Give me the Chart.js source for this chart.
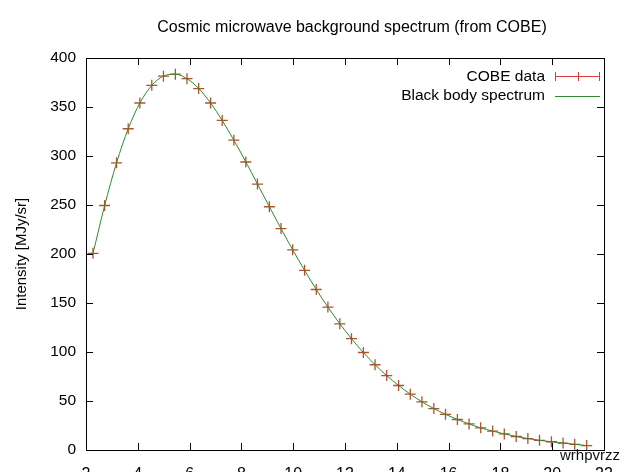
<!DOCTYPE html>
<html>
<head>
<meta charset="utf-8">
<script src="https://cdn.jsdelivr.net/npm/chart.js@4"></script>
<style>
  html, body { margin: 0; padding: 0; background: #fff; overflow: hidden; }
  #wrap { position: relative; width: 640px; height: 490px; }
  #mark { position: absolute; left: 560px; top: 446px; font: 15px "Liberation Sans", Arial, sans-serif; color: #111; }
</style>
</head>
<body>
<div id="wrap">
  <canvas id="cobeChart" width="640" height="490"></canvas>
  <div id="mark">wrhpvrzz</div>
</div>
<script>
// frequency [1/cm]
const frequency = [2.27, 2.72, 3.18, 3.63, 4.08, 4.54, 4.99, 5.45, 5.90, 6.35, 6.81, 7.26, 7.71, 8.17, 8.62,
    9.08, 9.53, 9.98, 10.44, 10.89, 11.34, 11.80, 12.25, 12.71, 13.16, 13.61, 14.07, 14.52, 14.97, 15.43,
    15.88, 16.34, 16.79, 17.24, 17.70, 18.15, 18.61, 19.06, 19.51, 19.97, 20.42, 20.87, 21.33];
// COBE measured intensity [MJy/sr]
const cobeData = [200.7, 249.5, 293.0, 327.8, 354.1, 372.1, 381.5, 383.5, 378.9, 368.8, 354.1, 336.3, 316.1,
    293.9, 271.4, 248.2, 225.9, 204.3, 183.3, 163.8, 145.8, 128.8, 113.6, 99.5, 87.0, 75.9, 65.8, 57.0, 49.2,
    42.3, 36.4, 31.1, 26.6, 22.6, 19.3, 16.4, 13.8, 11.7, 9.9, 8.4, 7.1, 5.8, 4.5];
// black body fit [MJy/sr]
const blackBody = [200.6, 249.4, 293.1, 327.7, 354.1, 372.0, 381.5, 383.4, 378.9, 368.9, 354.1, 336.2, 316.1,
    294.0, 271.4, 248.2, 225.9, 204.3, 183.3, 163.8, 145.8, 128.9, 113.6, 99.5, 87.0, 75.9, 65.8, 57.0, 49.2,
    42.3, 36.4, 31.1, 26.6, 22.6, 19.3, 16.4, 13.8, 11.7, 9.9, 8.4, 7.1, 5.8, 4.5];
const xTicks = [2, 4, 6, 8, 10, 12, 14, 16, 18, 20, 22];
const yTicks = [0, 50, 100, 150, 200, 250, 300, 350, 400];

const font = "Liberation Sans, Arial, sans-serif";
const red = "#dc3c3c";
const cross = "#b4502c";
const green = "#2f8a2f";

// gnuplot look: title over the plot, box border, inward ticks on all sides, key inside top-right
const framePlugin = {
    id: "frame",
    afterDatasetsDraw(chart) {
        const { ctx, chartArea: a, scales } = chart;
        ctx.save();
        ctx.fillStyle = "#000";
        ctx.font = "16px " + font;
        ctx.textAlign = "center";
        ctx.textBaseline = "middle";
        ctx.fillText("Cosmic microwave background spectrum (from COBE)", 352, 28);

        ctx.strokeStyle = "#000";
        ctx.lineWidth = 1;
        ctx.strokeRect(a.left + 0.5, a.top + 0.5, a.right - a.left, a.bottom - a.top);
        ctx.beginPath();
        xTicks.forEach(v => {
            const x = Math.round(scales.x.getPixelForValue(v)) + 0.5;
            ctx.moveTo(x, a.bottom); ctx.lineTo(x, a.bottom - 7);
            ctx.moveTo(x, a.top); ctx.lineTo(x, a.top + 7);
        });
        yTicks.forEach(v => {
            const y = Math.round(scales.y.getPixelForValue(v)) + 0.5;
            ctx.moveTo(a.left, y); ctx.lineTo(a.left + 7, y);
            ctx.moveTo(a.right, y); ctx.lineTo(a.right - 7, y);
        });
        ctx.stroke();

        // key
        ctx.font = "15.5px " + font;
        ctx.textAlign = "right";
        const tx = a.right - 59, x0 = a.right - 49, x1 = a.right - 4;
        ctx.fillText("COBE data", tx, 77);
        ctx.fillText("Black body spectrum", tx, 96);
        ctx.strokeStyle = red;
        ctx.beginPath();
        ctx.moveTo(x0, 76.5); ctx.lineTo(x1, 76.5);
        ctx.moveTo(x0 + 0.5, 72); ctx.lineTo(x0 + 0.5, 81);
        ctx.moveTo(x1 - 0.5, 72); ctx.lineTo(x1 - 0.5, 81);
        const xm = Math.round((x0 + x1) / 2) + 0.5;
        ctx.moveTo(xm, 72); ctx.lineTo(xm, 81);
        ctx.stroke();
        ctx.strokeStyle = green;
        ctx.beginPath();
        ctx.moveTo(x0, 96.5); ctx.lineTo(x1, 96.5);
        ctx.stroke();
        ctx.restore();
    }
};

new Chart(document.getElementById("cobeChart"), {
    type: "scatter",
    data: {
        datasets: [
            {
                label: "COBE data",
                data: frequency.map((f, i) => ({ x: f, y: cobeData[i] })),
                showLine: false,
                pointStyle: "cross",
                pointRadius: 5.5,
                pointBorderWidth: 1.3,
                borderColor: cross,
                backgroundColor: cross,
                order: 2
            },
            {
                label: "Black body spectrum",
                data: frequency.map((f, i) => ({ x: f, y: blackBody[i] })),
                showLine: true,
                pointRadius: 0,
                borderColor: green,
                borderWidth: 1,
                cubicInterpolationMode: "monotone",
                order: 1
            }
        ]
    },
    options: {
        responsive: false,
        animation: false,
        layout: { padding: { top: 58, right: 36, left: 0, bottom: 0 } },
        plugins: {
            legend: { display: false },
            tooltip: { enabled: false },
            title: { display: false }
        },
        scales: {
            x: {
                type: "linear",
                min: 2,
                max: 22,
                afterBuildTicks: s => { s.ticks = xTicks.map(v => ({ value: v })); },
                afterFit: s => { s.height = 40; },
                grid: { display: false, drawTicks: false },
                border: { display: false },
                ticks: { color: "#000", padding: 15, maxRotation: 0, font: { family: font, size: 16 } }
            },
            y: {
                min: 0,
                max: 400,
                afterBuildTicks: s => { s.ticks = yTicks.map(v => ({ value: v })); },
                afterFit: s => { s.width = 86; },
                grid: { display: false, drawTicks: false },
                border: { display: false },
                title: {
                    display: true,
                    text: "Intensity [MJy/sr]",
                    color: "#000",
                    font: { family: font, size: 15 },
                    padding: { top: 13, bottom: 0 }
                },
                ticks: { color: "#000", padding: 10, font: { family: font, size: 15.5 } }
            }
        }
    },
    plugins: [framePlugin]
});
</script>
</body>
</html>
